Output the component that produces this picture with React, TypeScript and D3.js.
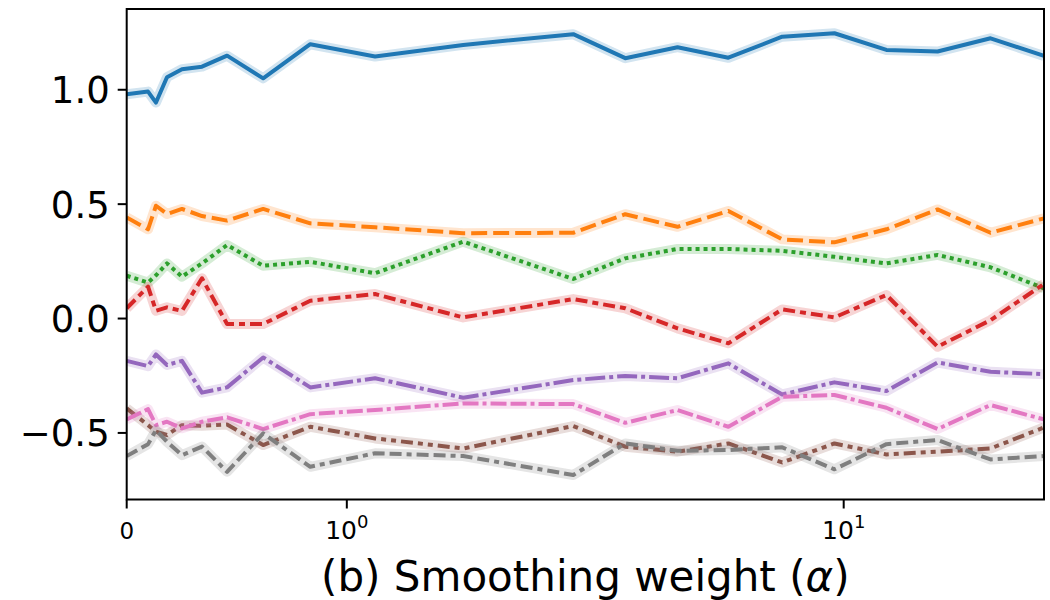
import React, {useEffect, useRef} from 'react';
import * as d3 from 'd3';

// smoothing weights (x) - symlog axis, linear between 0 and 1
const alphas = [0, 0.097, 0.133, 0.183, 0.251, 0.342, 0.456, 0.62, 0.834, 1.14, 1.715,
    2.856, 3.634, 4.63, 5.86, 7.52, 9.58, 12.19, 15.45, 19.75, 25.3];

const seriesBlue = [0.980, 0.992, 0.944, 1.055, 1.090, 1.101, 1.149, 1.050, 1.199, 1.145, 1.196,
    1.243, 1.138, 1.186, 1.140, 1.232, 1.247, 1.174, 1.167, 1.225, 1.148];
const seriesOrange = [0.442, 0.390, 0.493, 0.457, 0.479, 0.448, 0.428, 0.479, 0.416, 0.399, 0.373,
    0.375, 0.456, 0.401, 0.470, 0.346, 0.333, 0.390, 0.477, 0.375, 0.438];
const seriesGreen = [0.187, 0.157, 0.189, 0.241, 0.183, 0.241, 0.321, 0.231, 0.248, 0.198, 0.336,
    0.173, 0.263, 0.304, 0.304, 0.296, 0.270, 0.241, 0.278, 0.224, 0.132];
const seriesRed = [0.045, 0.139, 0.034, 0.049, 0.033, 0.176, -0.024, -0.024, 0.078, 0.107, 0.005,
    0.085, 0.045, -0.043, -0.108, 0.040, 0.005, 0.103, -0.123, -0.007, 0.151];
const seriesPurple = [-0.185, -0.208, -0.157, -0.203, -0.185, -0.324, -0.301, -0.170, -0.301, -0.261, -0.346,
    -0.269, -0.251, -0.261, -0.196, -0.332, -0.279, -0.317, -0.192, -0.233, -0.243];
const seriesBrown = [-0.393, -0.466, -0.495, -0.509, -0.466, -0.469, -0.463, -0.553, -0.473, -0.524, -0.568,
    -0.470, -0.560, -0.582, -0.546, -0.629, -0.546, -0.594, -0.582, -0.568, -0.476];
const seriesPink = [-0.441, -0.396, -0.466, -0.451, -0.480, -0.451, -0.432, -0.483, -0.418, -0.400, -0.371,
    -0.374, -0.456, -0.400, -0.473, -0.342, -0.334, -0.390, -0.483, -0.378, -0.441];
const seriesGray = [-0.601, -0.549, -0.488, -0.539, -0.597, -0.560, -0.670, -0.502, -0.648, -0.589, -0.601,
    -0.684, -0.546, -0.578, -0.575, -0.563, -0.659, -0.549, -0.531, -0.616, -0.601];

const yTicks = [1.0, 0.5, 0.0, -0.5];
const yTickLabels = ['1.0', '0.5', '0.0', '\u22120.5'];
const xTicks = [0, 1, 10];
const xTickBase = ['0', '10', '10'];
const xTickExp = ['', '0', '1'];
const xLabel = '(b) Smoothing weight (';

const App = () => {
    const ref = useRef<SVGSVGElement>(null);

    useEffect(() => {
        const svg = d3.select(ref.current);
        svg.selectAll('*').remove();

        const left = 126.7, right = 1044, top = 9, bottom = 499.5;
        const lw = 4;

        // symlog: linear part 0..1 squeezed into L decades
        const L = 0.443;
        const symT = (a: number) => a <= 1 ? a * L : L + Math.log10(a);
        const xLin = d3.scaleLinear().domain([0, symT(alphas[alphas.length - 1])]).range([left, right]);
        const x = (a: number) => xLin(symT(a));
        const y = d3.scaleLinear().domain([-0.791, 1.353]).range([bottom, top]);

        svg.append('defs').append('clipPath').attr('id', 'plot-clip')
            .append('rect')
            .attr('x', left).attr('y', top)
            .attr('width', right - left).attr('height', bottom - top);

        const series = [
            {v: seriesBlue, c: '#1f77b4', d: ''},
            {v: seriesOrange, c: '#ff7f0e', d: [4, 1.5]},
            {v: seriesGreen, c: '#2ca02c', d: [1, 1]},
            {v: seriesRed, c: '#d62728', d: [3, 1.25, 1.5, 1.25]},
            {v: seriesPurple, c: '#9467bd', d: [5, 1, 1, 1]},
            {v: seriesBrown, c: '#8c564b', d: [3, 1.25, 1.25, 1.25, 1.25, 1.25]},
            {v: seriesPink, c: '#e377c2', d: [4, 1, 4, 1, 1, 1]},
            {v: seriesGray, c: '#7f7f7f', d: [3, 1.25, 3, 1.25, 1.25, 1.25]},
        ];

        const line = d3.line<number>()
            .x((_, i) => x(alphas[i]))
            .y(d => y(d));

        const g = svg.append('g').attr('clip-path', 'url(#plot-clip)');
        series.forEach(s => {
            // light band behind each line
            g.append('path')
                .attr('d', line(s.v))
                .attr('fill', 'none')
                .attr('stroke', s.c)
                .attr('stroke-opacity', 0.2)
                .attr('stroke-width', 10)
                .attr('stroke-linejoin', 'round');
            g.append('path')
                .attr('d', line(s.v))
                .attr('fill', 'none')
                .attr('stroke', s.c)
                .attr('stroke-width', lw)
                .attr('stroke-linejoin', 'round')
                .attr('stroke-dasharray', Array.isArray(s.d) ? s.d.map(k => k * lw).join(',') : null);
        });

        // frame
        svg.append('rect')
            .attr('x', left).attr('y', top)
            .attr('width', right - left).attr('height', bottom - top)
            .attr('fill', 'none').attr('stroke', 'black').attr('stroke-width', 2);

        const font = 'DejaVu Sans';

        // y ticks
        yTicks.forEach((t, i) => {
            svg.append('line')
                .attr('x1', left - 9).attr('x2', left)
                .attr('y1', y(t)).attr('y2', y(t))
                .attr('stroke', 'black').attr('stroke-width', 2);
            svg.append('text')
                .attr('x', left - 17).attr('y', y(t) + 13.5)
                .attr('text-anchor', 'end')
                .attr('font-family', font).attr('font-size', 37)
                .text(yTickLabels[i]);
        });

        // x ticks
        xTicks.forEach((t, i) => {
            svg.append('line')
                .attr('x1', x(t)).attr('x2', x(t))
                .attr('y1', bottom).attr('y2', bottom + 9)
                .attr('stroke', 'black').attr('stroke-width', 2);
            const txt = svg.append('text')
                .attr('x', x(t)).attr('y', 539)
                .attr('text-anchor', 'middle')
                .attr('font-family', font).attr('font-size', xTickExp[i] ? 25 : 23);
            txt.append('tspan').text(xTickBase[i]);
            if (xTickExp[i]) {
                txt.append('tspan').attr('dy', -11).attr('font-size', 18).text(xTickExp[i]);
            }
        });

        // x label
        const lab = svg.append('text')
            .attr('x', (left + right) / 2).attr('y', 591)
            .attr('text-anchor', 'middle')
            .attr('font-family', font).attr('font-size', 42);
        lab.append('tspan').text(xLabel);
        lab.append('tspan').attr('font-style', 'italic').text('\u03b1');
        lab.append('tspan').text(')');
    }, []);

    return (
        <svg ref={ref} width={1050} height={600}
             style={{position: 'absolute', left: 0, top: 0, background: 'white'}}/>
    );
};

export default App;
